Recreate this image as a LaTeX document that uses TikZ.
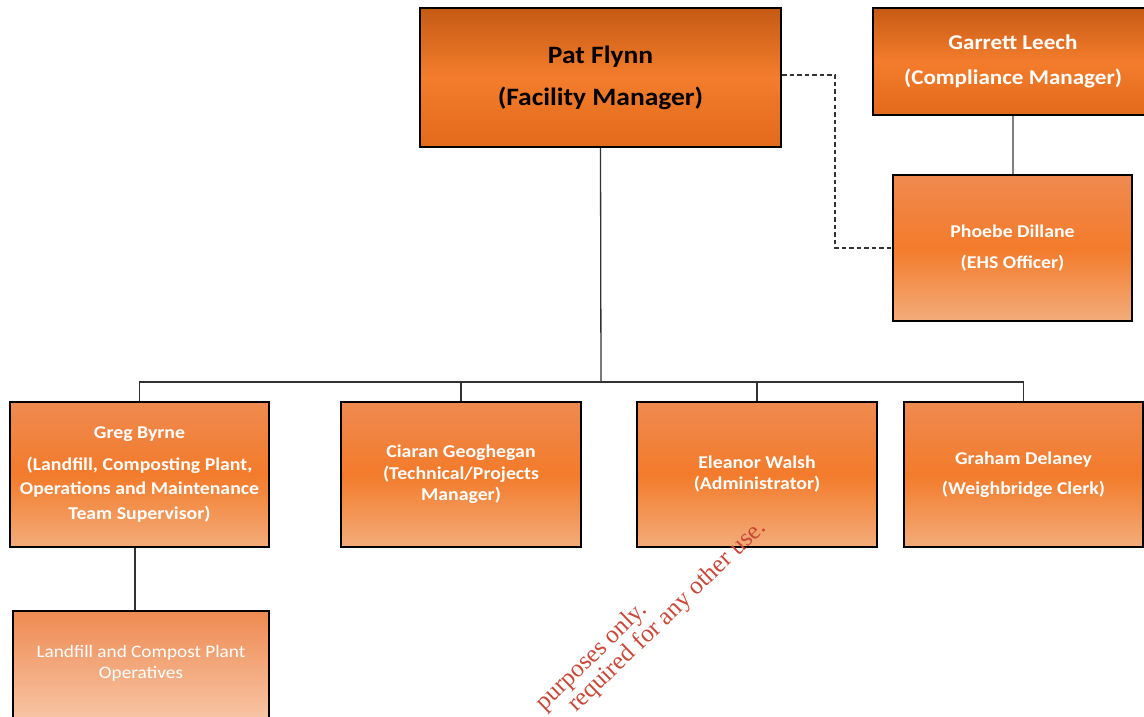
\documentclass[tikz,border=0pt]{standalone}
\usepackage{fontspec}
\setmainfont{Carlito}[FakeStretch=1.1]
\newfontfamily\wmfont{Liberation Serif}
\usetikzlibrary{calc}
\definecolor{topdark}{RGB}{198,90,20}
\definecolor{midor}{RGB}{243,125,45}
\definecolor{botdark}{RGB}{226,106,26}
\definecolor{ltop}{RGB}{239,138,80}
\definecolor{lmid}{RGB}{243,123,43}
\definecolor{lbot}{RGB}{243,172,122}
\definecolor{otop}{RGB}{238,138,82}
\definecolor{obot}{RGB}{251,220,196}
\definecolor{conn}{RGB}{50,50,50}
\definecolor{wmred}{RGB}{200,72,56}
\tikzset{
  boxbase/.style={draw=black, line width=2pt, inner sep=0pt, align=center, text=white},
  topbox/.style={boxbase, top color=topdark, bottom color=botdark, middle color=midor},
  lowbox/.style={boxbase, top color=ltop, bottom color=lbot, middle color=lmid,
     minimum width=240pt, minimum height=145pt},
  opsbox/.style={boxbase, top color=otop, bottom color=obot},
  conline/.style={draw=conn, line width=1.3pt},
  wm/.style={text=wmred, font=\wmfont\fontsize{25}{27}\selectfont, inner sep=0pt}
}
\begin{document}
\begin{tikzpicture}[x=1pt,y=-1pt]
\useasboundingbox (0,0) rectangle (1144,717);
\clip (0,0) rectangle (1144,717);
% top boxes
\node[topbox, text=black, minimum width=361pt, minimum height=139pt,
  font=\bfseries\fontsize{25}{42}\selectfont] (pat) at (600.5,77.5)
  {Pat Flynn\\(Facility Manager)};
\node[topbox, minimum width=280pt, minimum height=107pt,
  font=\bfseries\fontsize{21}{35}\selectfont] (garrett) at (1013,61.5)
  {Garrett Leech\\(Compliance Manager)};
\node[lowbox, minimum width=239pt, minimum height=146pt,
  font=\bfseries\fontsize{18}{31}\selectfont] (phoebe) at (1012.5,248)
  {Phoebe Dillane\\(EHS Officer)};
% second row
\node[lowbox, minimum width=259pt, font=\bfseries\fontsize{18}{24.5}\selectfont] (greg) at (139.5,474.5)
  {Greg Byrne\\[7.5pt](Landfill, Composting Plant,\\Operations and Maintenance\\Team Supervisor)};
\node[lowbox, font=\bfseries\fontsize{18}{21.5}\selectfont] (ciaran) at (461,474.5)
  {Ciaran Geoghegan\\(Technical/Projects\\Manager)};
\node[lowbox, font=\bfseries\fontsize{18}{21}\selectfont] (eleanor) at (757,474.5)
  {Eleanor Walsh\\(Administrator)};
\node[lowbox, minimum width=239pt, font=\bfseries\fontsize{18}{30}\selectfont] (graham) at (1023.5,474.5)
  {Graham Delaney\\(Weighbridge Clerk)};
% operatives
\node[opsbox, minimum width=256pt, minimum height=150pt, anchor=north] (ops) at (141,610) {};
\node[inner sep=0pt, align=center, text=white, font=\fontsize{17.5}{21}\selectfont] (opstext) at (141,663.5)
  {Landfill and Compost Plant\\Operatives};
% connectors
\coordinate (bus) at (601,382);
\draw[conline] (pat.south) -- (bus);
\draw[conline] (bus) -| (greg.north);
\draw[conline] (bus) -| (ciaran.north);
\draw[conline] (bus) -| (eleanor.north);
\draw[conline] (bus) -| (graham.north);
\draw[conline] ([xshift=-4.5pt]greg.south) -- ([xshift=-4.5pt]greg.south |- ops.north);
\draw[draw=gray, line width=2pt] (phoebe.north) -- (phoebe.north |- garrett.south);
\draw[conn, line width=1.1pt, dash pattern=on 4.5pt off 3pt] ([yshift=2.5pt]pat.east) -- ++(53,0) |- (phoebe.west);
% watermark
\node[wm, anchor=base east, rotate=44] (wm1) at (648,611) {purposes only.};
\node[wm, anchor=base east, rotate=44] (wm2) at (767,529) {required for any other use.};
\end{tikzpicture}
\end{document}
